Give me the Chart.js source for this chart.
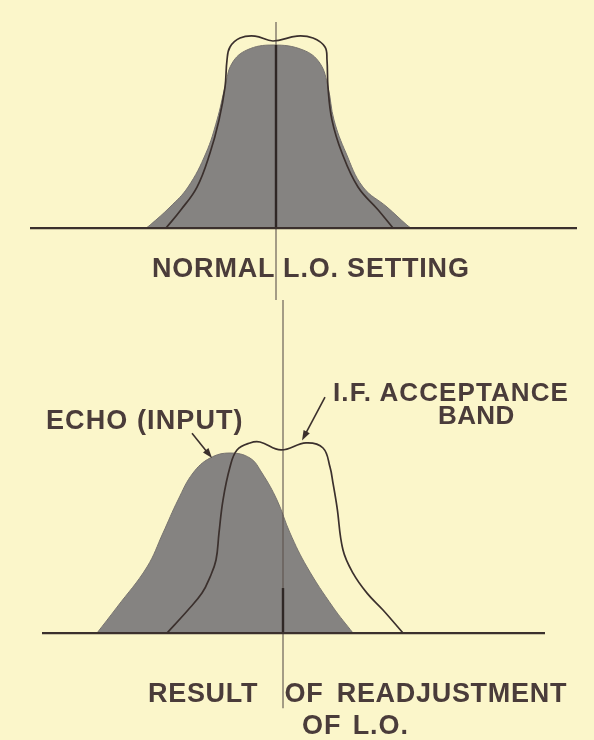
<!DOCTYPE html>
<html>
<head>
<meta charset="utf-8">
<script src="https://cdn.jsdelivr.net/npm/chart.js@4.4.0/dist/chart.umd.min.js"></script>
<style>
    html, body { margin: 0; padding: 0; background: #fbf6ca; }
    #page { position: relative; width: 594px; height: 740px; overflow: hidden; background: #fbf6ca; }
    canvas { position: absolute; left: 0; }
    .lbl {
        position: absolute;
        font-family: "Liberation Sans", Arial, sans-serif;
        font-weight: bold;
        font-size: 27px;
        line-height: 27px;
        color: #4a3c3a;
        white-space: pre;
    }
</style>
</head>
<body>
<div id="page">
    <canvas id="topChart" width="594" height="300" style="top:0"></canvas>
    <canvas id="bottomChart" width="594" height="440" style="top:300px"></canvas>
    <div class="lbl" id="lblNormal" style="left:152px; top:255px; letter-spacing:0.8px;"></div>
    <div class="lbl" id="lblEcho" style="left:46px; top:407px; letter-spacing:1.1px;"></div>
    <div class="lbl" id="lblIf1" style="left:333px; top:379px; font-size:26px; letter-spacing:1.1px;"></div>
    <div class="lbl" id="lblIf2" style="left:438px; top:402px; font-size:26px; letter-spacing:0.4px;"></div>
    <div class="lbl" id="lblRes1" style="left:148px; top:680px; letter-spacing:0.7px; word-spacing:5px;"></div>
    <div class="lbl" id="lblRes2" style="left:302px; top:712px; letter-spacing:0.9px; word-spacing:3px;"></div>
</div>
<script>
// x = frequency offset from the L.O. reference line (arbitrary units), y = relative amplitude

// top panel: normal L.O. setting
const normalEchoX = [-13.0, -12.6, -10.6, -8.8, -7.0, -5.9, -5.1, -4.4, -2.9, -0.3, 2.7, 4.4, 5.2, 5.8, 7.0, 8.7, 11.1, 13.1, 13.5];
const normalEchoY = [0, 0.016, 0.115, 0.224, 0.41, 0.59, 0.77, 0.90, 0.973, 1.0, 0.973, 0.90, 0.77, 0.59, 0.41, 0.224, 0.115, 0.016, 0];
const normalBandX = [-11.0, -9.5, -7.9, -6.6, -5.7, -5.1, -4.9, -4.6, -3.6, -2.1, -0.3, 2.1, 3.7, 4.9, 5.1, 5.2, 5.6, 6.6, 8.2, 10.2, 11.7];
const normalBandY = [0, 0.10, 0.224, 0.41, 0.59, 0.77, 0.918, 0.989, 1.038, 1.049, 1.022, 1.049, 1.038, 0.989, 0.918, 0.77, 0.59, 0.41, 0.224, 0.10, 0];

// bottom panel: after readjustment of L.O.
const shiftedEchoX = [-18.6, -16.6, -13.6, -12.0, -10.5, -9.0, -7.3, -5.3, -3.3, -2.1, -0.6, 0.7, 2.4, 5.0, 7.0];
const shiftedEchoY = [0, 0.144, 0.367, 0.556, 0.739, 0.889, 0.972, 1.0, 0.972, 0.889, 0.739, 0.556, 0.367, 0.144, 0];
const shiftedBandX = [-11.6, -9.5, -8.1, -7.3, -6.7, -6.4, -6.0, -5.3, -4.6, -3.3, -2.3, -0.2, 2.3, 4.0, 4.7, 5.0, 5.4, 6.0, 7.0, 8.4, 10.0, 12.0];
const shiftedBandY = [0, 0.128, 0.222, 0.311, 0.406, 0.556, 0.739, 0.922, 1.017, 1.056, 1.061, 1.017, 1.056, 1.028, 0.922, 0.833, 0.70, 0.461, 0.333, 0.222, 0.128, 0];

// axis extents (baseline and L.O. reference line)
const topBaseline = [-24.6, 30.1];
const topRefLine = [1.126, -0.393];
const bottomBaseline = [-24.1, 26.2];
const bottomRefLine = [1.85, -0.417];

// labels
const normalLabel = 'NORMAL L.O. SETTING';
const echoLabel = 'ECHO (INPUT)';
const ifLabel = ['I.F. ACCEPTANCE', 'BAND'];
const resultLabel = ['RESULT  OF READJUSTMENT', 'OF L.O.'];

// arrows [from, to] in data units
const echoArrow = [[-9.1, 1.11], [-7.1, 0.972]];
const ifArrow = [[4.2, 1.31], [1.9, 1.07]];

const INK = '#3b302d';
const FILL = '#858381';

function toPoints(xs, ys) {
    return xs.map((x, i) => ({ x: x, y: ys[i] }));
}

const arrowPlugin = {
    id: 'arrows',
    afterDatasetsDraw(chart, args, opts) {
        const ctx = chart.ctx;
        const xs = chart.scales.x, ys = chart.scales.y;
        (opts.list || []).forEach(a => {
            const x1 = xs.getPixelForValue(a[0][0]), y1 = ys.getPixelForValue(a[0][1]);
            const x2 = xs.getPixelForValue(a[1][0]), y2 = ys.getPixelForValue(a[1][1]);
            const ang = Math.atan2(y2 - y1, x2 - x1);
            const c = Math.cos(ang), s = Math.sin(ang);
            ctx.save();
            ctx.strokeStyle = INK;
            ctx.fillStyle = INK;
            ctx.lineWidth = 1.6;
            ctx.beginPath();
            ctx.moveTo(x1, y1);
            ctx.lineTo(x2 - 6 * c, y2 - 6 * s);
            ctx.stroke();
            ctx.beginPath();
            ctx.moveTo(x2, y2);
            ctx.lineTo(x2 - 10 * c + 3.5 * s, y2 - 10 * s - 3.5 * c);
            ctx.lineTo(x2 - 10 * c - 3.5 * s, y2 - 10 * s + 3.5 * c);
            ctx.closePath();
            ctx.fill();
            ctx.restore();
        });
    }
};

function makeChart(id, cfg) {
    return new Chart(document.getElementById(id), {
        type: 'line',
        data: {
            datasets: [
                {
                    label: 'Echo',
                    data: toPoints(cfg.echoX, cfg.echoY),
                    fill: 'origin',
                    backgroundColor: FILL,
                    borderColor: '#77736f',
                    borderWidth: 1,
                    tension: 0.4,
                    order: 5
                },
                {
                    label: 'Reference',
                    data: [{ x: 0, y: cfg.refLine[0] }, { x: 0, y: cfg.refLine[1] }],
                    borderColor: '#5e534e',
                    borderWidth: 1.1,
                    fill: false,
                    order: 4
                },
                {
                    label: 'Reference (inside echo)',
                    data: [{ x: 0, y: 0 }, { x: 0, y: cfg.refInside }],
                    borderColor: '#2f2725',
                    borderWidth: 2.4,
                    fill: false,
                    order: 3
                },
                {
                    label: 'Baseline',
                    data: [{ x: cfg.baseline[0], y: 0 }, { x: cfg.baseline[1], y: 0 }],
                    borderColor: INK,
                    borderWidth: 2.2,
                    fill: false,
                    order: 2
                },
                {
                    label: 'I.F. band',
                    data: toPoints(cfg.bandX, cfg.bandY),
                    borderColor: INK,
                    borderWidth: 1.7,
                    fill: false,
                    tension: 0.4,
                    order: 1
                }
            ]
        },
        options: {
            responsive: false,
            animation: false,
            events: [],
            layout: { padding: 0 },
            elements: { point: { radius: 0 } },
            plugins: {
                legend: { display: false },
                tooltip: { enabled: false },
                arrows: { list: cfg.arrows }
            },
            scales: {
                x: { type: 'linear', display: false, min: cfg.xRange[0], max: cfg.xRange[1] },
                y: { type: 'linear', display: false, min: cfg.yRange[0], max: cfg.yRange[1] }
            }
        },
        plugins: [arrowPlugin]
    });
}

makeChart('topChart', {
    echoX: normalEchoX, echoY: normalEchoY,
    bandX: normalBandX, bandY: normalBandY,
    baseline: topBaseline, refLine: topRefLine, refInside: 1.0,
    arrows: [],
    xRange: [-27.6, 31.8], yRange: [-0.393, 1.246]
});

makeChart('bottomChart', {
    echoX: shiftedEchoX, echoY: shiftedEchoY,
    bandX: shiftedBandX, bandY: shiftedBandY,
    baseline: bottomBaseline, refLine: bottomRefLine, refInside: 0.25,
    arrows: [echoArrow, ifArrow],
    xRange: [-28.3, 31.1], yRange: [-0.594, 1.85]
});

document.getElementById('lblNormal').textContent = normalLabel;
document.getElementById('lblEcho').textContent = echoLabel;
document.getElementById('lblIf1').textContent = ifLabel[0];
document.getElementById('lblIf2').textContent = ifLabel[1];
document.getElementById('lblRes1').textContent = resultLabel[0];
document.getElementById('lblRes2').textContent = resultLabel[1];
</script>
</body>
</html>
